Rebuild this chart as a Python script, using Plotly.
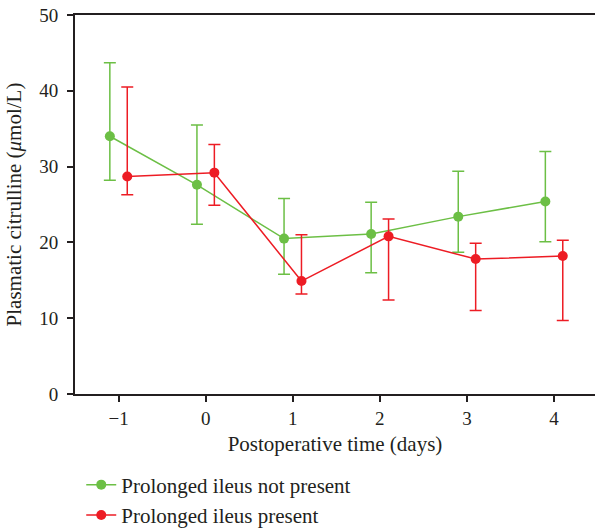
import plotly.graph_objects as go

days = [-1, 0, 1, 2, 3, 4]
offset = 0.1

not_present_mean = [34.0, 27.6, 20.5, 21.1, 23.4, 25.4]
not_present_upper = [43.7, 35.5, 25.8, 25.3, 29.4, 32.0]
not_present_lower = [28.2, 22.4, 15.8, 16.0, 18.7, 20.1]

present_mean = [28.7, 29.2, 14.9, 20.8, 17.8, 18.2]
present_upper = [40.5, 32.9, 21.0, 23.1, 19.9, 20.3]
present_lower = [26.3, 24.9, 13.2, 12.4, 11.0, 9.7]

x_ticks = [-1, 0, 1, 2, 3, 4]
y_ticks = [0, 10, 20, 30, 40, 50]

GREEN = "#6cbf45"
RED = "#ed1c24"
FONT = "Liberation Serif"
FS = 21

def trace(name, xs, mean, upper, lower, color):
    return go.Scatter(
        x=xs, y=mean, name=name, mode="lines+markers",
        line=dict(color=color, width=1.5),
        marker=dict(color=color, size=10),
        error_y=dict(type="data", symmetric=False,
                     array=[u - m for u, m in zip(upper, mean)],
                     arrayminus=[m - l for m, l in zip(mean, lower)],
                     color=color, thickness=1.5, width=6),
    )

fig = go.Figure()
fig.add_trace(trace("Prolonged ileus not present", [d - offset for d in days],
                    not_present_mean, not_present_upper, not_present_lower, GREEN))
fig.add_trace(trace("Prolonged ileus present", [d + offset for d in days],
                    present_mean, present_upper, present_lower, RED))

fig.update_layout(
    width=595, height=529,
    margin=dict(l=75, r=0, t=15, b=135, autoexpand=False),
    plot_bgcolor="white", paper_bgcolor="white",
    font=dict(family=FONT, size=FS, color="#231f20"),
    showlegend=True,
    legend=dict(x=0.012, y=-0.186, xanchor="left", yanchor="top",
                font=dict(size=FS), tracegroupgap=0, itemwidth=30,
                bgcolor="rgba(0,0,0,0)"),
)
fig.update_xaxes(
    range=[-1.5, 4.47], tickvals=x_ticks, ticktext=["\u22121", "0", "1", "2", "3", "4"],
    showline=True, linecolor="#231f20", linewidth=2, mirror=True,
    ticks="outside", ticklen=6, tickwidth=2, tickcolor="#231f20",
    showgrid=False, zeroline=False, automargin=False, ticklabeloverflow="allow",
    title=dict(text="Postoperative time (days)", font=dict(size=FS), standoff=9),
    tickfont=dict(size=19),
)
fig.update_yaxes(
    range=[0, 50], tickvals=y_ticks,
    showline=True, linecolor="#231f20", linewidth=2,
    ticks="outside", ticklen=6, tickwidth=2, tickcolor="#231f20",
    ticklabelstandoff=5, ticklabeloverflow="allow",
    showgrid=False, zeroline=False, automargin=False,
    title=dict(text="Plasmatic citrulline (<i>\u03bc</i>mol/L)", font=dict(size=FS), standoff=12),
    tickfont=dict(size=19),
)

fig.write_html("out.html", config={"displayModeBar": False},
               post_script="document.body.style.margin='0';document.body.style.overflow='hidden';")
